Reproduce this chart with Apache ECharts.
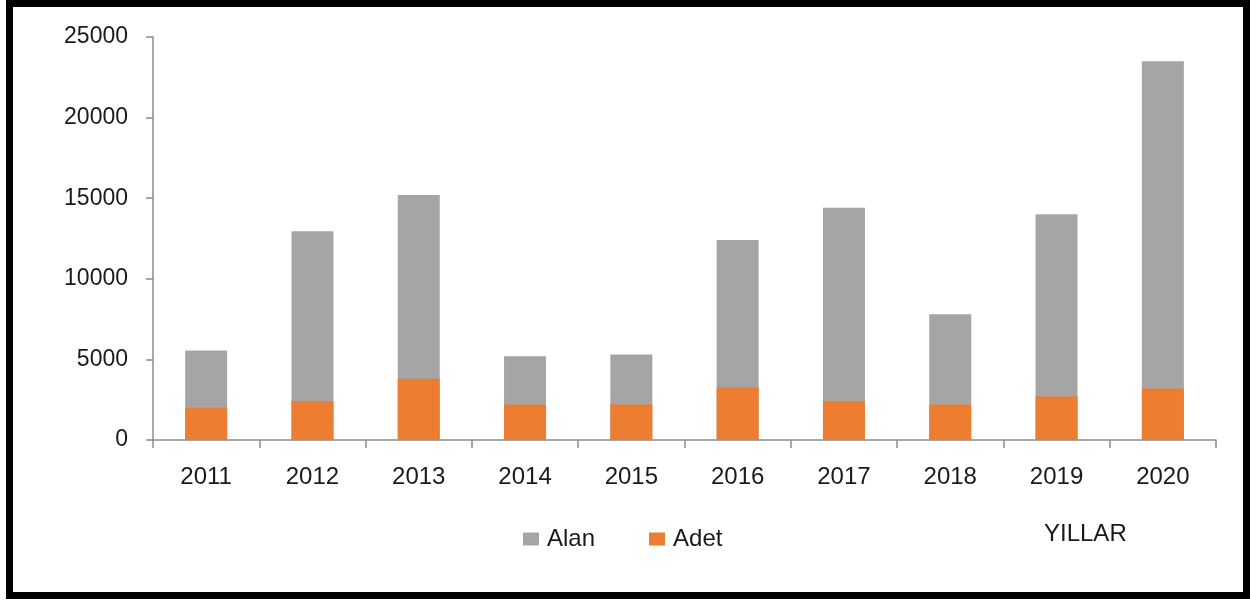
<!DOCTYPE html>
<html>
<head>
<meta charset="utf-8">
<script src="https://cdn.jsdelivr.net/npm/echarts@6/dist/echarts.min.js"></script>
<style>
html,body{margin:0;padding:0;background:#fff;}
#c{width:1250px;height:601px;}
</style>
</head>
<body>
<div id="c"></div>
<script>
const years = ['2011','2012','2013','2014','2015','2016','2017','2018','2019','2020'];
const alan = [5550, 12950, 15200, 5200, 5300, 12400, 14400, 7800, 14000, 23500];
const adet = [2000, 2420, 3800, 2200, 2200, 3250, 2400, 2200, 2700, 3200];
const yTicks = [0, 5000, 10000, 15000, 20000, 25000];

const chart = echarts.init(document.getElementById('c'), null, {renderer:'canvas'});
const axisColor = '#8c8c8c';
const txt = '#1a1a1a';
chart.setOption({
  animation: false,
  backgroundColor: '#fff',
  grid: {left:153, right:34, top:37, bottom:161, containLabel:false},
  legend: {
    data: ['Alan','Adet'],
    left: 518, top: 522,
    itemWidth: 16, itemHeight: 13, itemGap: 54,
    icon: 'rect',
    textStyle: {fontFamily:'Liberation Sans', fontSize:24, color:txt, padding:[0,0,0,3]}
  },
  xAxis: {
    type: 'category',
    data: years,
    boundaryGap: true,
    axisLine: {show:true, lineStyle:{color:axisColor, width:1.5}},
    axisTick: {show:true, length:8, lineStyle:{color:axisColor, width:1.5}},
    axisLabel: {fontFamily:'Liberation Sans', fontSize:24, color:txt, margin:25}
  },
  yAxis: {
    type: 'value',
    min: yTicks[0], max: yTicks[yTicks.length-1], interval: 5000,
    splitLine: {show:false},
    axisLine: {show:true, lineStyle:{color:axisColor, width:1.5}},
    axisTick: {show:true, length:7, lineStyle:{color:axisColor, width:1.5}},
    axisLabel: {fontFamily:'Liberation Sans', fontSize:23, color:txt, margin:25, formatter: v => String(v)}
  },
  series: [
    {name:'Alan', type:'bar', data: alan, barWidth:42, barGap:'-100%', itemStyle:{color:'#a5a5a5'}},
    {name:'Adet', type:'bar', data: adet, barWidth:42, itemStyle:{color:'#ed7d31'}}
  ],
  graphic: [
    {type:'text', left:1044, top:522, style:{text:'YILLAR', font:'24px "Liberation Sans", sans-serif', fill:txt}},
    {type:'rect', shape:{x:9.5, y:3.5, width:1237, height:592}, style:{fill:'none', stroke:'#000', lineWidth:7}, silent:true}
  ]
});
</script>
</body>
</html>
